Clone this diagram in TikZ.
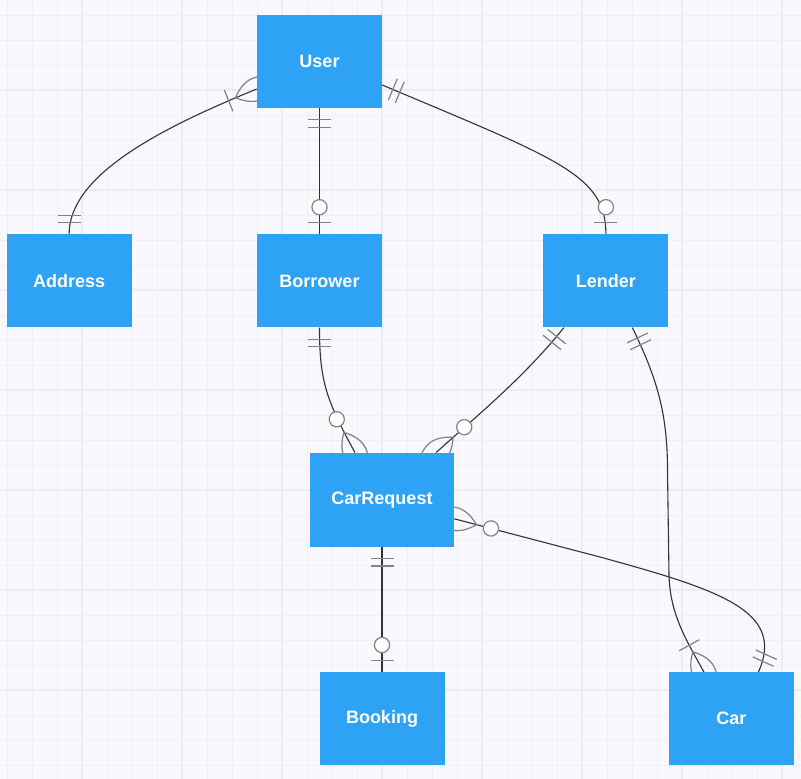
\documentclass[tikz,border=0pt]{standalone}
\usepackage{fontspec}
\setmainfont{Liberation Sans}
\usepackage{xcolor}
\usepackage{tikz}
\usetikzlibrary{positioning}

\definecolor{boxblue}{RGB}{46,162,245}
\definecolor{paper}{RGB}{248,248,253}
\definecolor{gridminor}{RGB}{239,239,250}
\definecolor{gridmajor}{RGB}{236,236,249}
\definecolor{linkgray}{RGB}{51,51,51}
\definecolor{markgray}{RGB}{130,130,130}

\pgfdeclarelayer{paperlayer}
\pgfdeclarelayer{linklayer}
\pgfsetlayers{paperlayer,linklayer,main}

\tikzset{
    mark line/.style={draw=markgray, line width=1.2pt},
    tail/.style={pos=0, sloped, allow upside down},
    head/.style={pos=1, sloped, allow upside down, rotate=180},
    crowfoot/.style={mark line},
    onlyone/.pic={\draw[mark line] (11.5,-11.5) -- (11.5,11.5) (19,-11.5) -- (19,11.5);},
    zeroone/.pic={\draw[mark line] (11.5,-11.5) -- (11.5,11.5);
        \draw[mark line, fill=white] (27,0) circle (7.6pt);},
    onemany/.pic={\draw[crowfoot] (-23,0) .. controls (-7.7,15.3) and (7.7,15.3) .. (23,0)
        .. controls (7.7,-15.3) and (-7.7,-15.3) .. cycle;
        \draw[mark line] (30.5,-11.5) -- (30.5,11.5);},
    zeromany/.pic={\draw[crowfoot] (-23,0) .. controls (-7.7,15.3) and (7.7,15.3) .. (23,0)
        .. controls (7.7,-15.3) and (-7.7,-15.3) .. cycle;
        \draw[mark line, fill=white] (38,0) circle (7.6pt);}
}

\begin{document}
\begin{tikzpicture}[
    x=1pt, y=-1pt,
    node distance=125pt,
    entity/.style={rectangle, fill=boxblue, text=white, font=\bfseries\fontsize{18}{22}\selectfont, minimum width=125pt, minimum height=93pt, inner sep=0pt, text centered},
    link/.style={draw=linkgray, line width=1.1pt}
]

% paper and grid
\useasboundingbox (0,0) rectangle (801,779);
\begin{pgfonlayer}{paperlayer}
\fill[paper] (0,0) rectangle (801,779);
\foreach \gx in {7,32,...,800} \draw[gridminor, line width=1pt] (\gx,0) -- (\gx,779);
\foreach \gy in {15,40,...,778} \draw[gridminor, line width=1pt] (0,\gy) -- (801,\gy);
\foreach \gx in {82,182,...,800} \draw[gridmajor, line width=1.1pt] (\gx,0) -- (\gx,779);
\foreach \gy in {90,190,...,778} \draw[gridmajor, line width=1.1pt] (0,\gy) -- (801,\gy);
\end{pgfonlayer}

\node[entity] (user) at (319.5,61.5) {User};
\node[entity, below=126pt of user] (borrower) {Borrower};
\node[entity, left=of borrower] (address) {Address};
\node[entity, right=161pt of borrower] (lender) {Lender};
\node[entity, minimum width=144pt, minimum height=94pt, below=of borrower, xshift=62.5pt] (carreq) {CarRequest};
\node[entity, below=of carreq] (booking) {Booking};
\node[entity, right=224pt of booking] (car) {Car};

% relationships, behind the boxes
\begin{pgfonlayer}{linklayer}
\draw[link] ([yshift=-27.5pt]user.west) .. controls +(-97,39.5) and +(0,-59) .. (address.north)
    pic[tail]{onemany} pic[head]{onlyone};
\draw[link] (user.south) -- (borrower.north)
    pic[tail]{onlyone} pic[head]{zeroone};
\draw[link] ([yshift=-23.5pt]user.east) .. controls +(178,75) and +(0,-59) .. (lender.north)
    pic[tail]{onlyone} pic[head]{zeroone};
\draw[link] (borrower.south) .. controls +(0,53) and +(-29,-53) .. ([xshift=-27pt]carreq.north)
    pic[tail]{onlyone} pic[head]{zeromany};
\draw[link] ([xshift=-42pt]lender.south) .. controls +(-40,50) and +(40,-36) .. ([xshift=54pt]carreq.north)
    pic[tail]{onlyone} pic[head]{zeromany};
\draw[link] ([xshift=26.5pt]lender.south) .. controls +(23,48) and +(0,-60) .. (667.5,470)
    pic[tail]{onlyone}
    -- (669,575) .. controls +(1,40) and +(-17,-31) .. ([xshift=-27.5pt]car.north)
    pic[head]{onemany};
\draw[link] ([yshift=-19pt]carreq.east) -- (600,557)
    pic[tail]{zeromany}
    .. controls +(120,33) and +(27.5,-61) .. ([xshift=27pt]car.north)
    pic[head]{onlyone};
\draw[link] (carreq.south) -- (booking.north)
    pic[tail]{onlyone} pic[head]{zeroone};
\end{pgfonlayer}

\end{tikzpicture}
\end{document}
